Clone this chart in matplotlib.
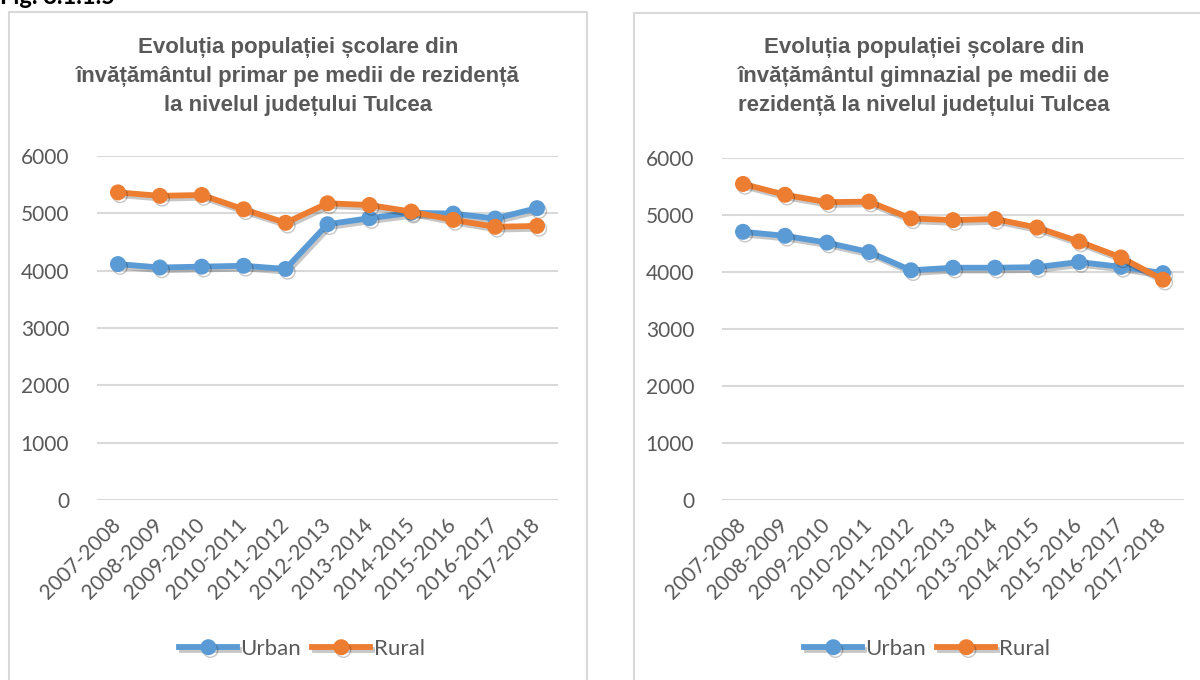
import matplotlib.pyplot as plt
import matplotlib.patheffects as pe
from matplotlib.patches import Rectangle

# Date
ani = ['2007-2008', '2008-2009', '2009-2010', '2010-2011', '2011-2012', '2012-2013',
       '2013-2014', '2014-2015', '2015-2016', '2016-2017', '2017-2018']
primar_urban = [4115, 4055, 4070, 4085, 4030, 4810, 4915, 5010, 4995, 4910, 5090]
primar_rural = [5365, 5305, 5320, 5070, 4835, 5175, 5145, 5030, 4885, 4765, 4780]
gimnazial_urban = [4705, 4635, 4515, 4350, 4030, 4075, 4075, 4085, 4175, 4090, 3980]
gimnazial_rural = [5545, 5355, 5225, 5235, 4940, 4910, 4930, 4780, 4535, 4255, 3865]
titlu_primar = 'Evoluția populației școlare din\nînvățământul primar pe medii de rezidență\nla nivelul județului Tulcea'
titlu_gimnazial = 'Evoluția populației școlare din\nînvățământul gimnazial pe medii de\nrezidență la nivelul județului Tulcea'

ALBASTRU = '#5B9BD5'
PORTOCALIU = '#ED7D31'
GRI = '#595959'
W, H = 1200, 680
FS = 15

plt.rcParams['font.family'] = ['Lato', 'DejaVu Sans']

fig = plt.figure(figsize=(12, 6.8), dpi=100)


def px_axes(x0, x1, y0, y1):
    return fig.add_axes([x0 / W, 1 - y1 / H, (x1 - x0) / W, (y1 - y0) / H])


def panel(x0, x1, y0):
    fig.add_artist(Rectangle((x0 / W, -0.05), (x1 - x0) / W, 1 - y0 / H + 0.05,
                             transform=fig.transFigure, fill=False,
                             edgecolor='#d9d9d9', linewidth=1.5))


def deseneaza(ax, urban, rural, titlu, cx, leg_x):
    umbra = [pe.SimpleLineShadow(offset=(1.5, -2), alpha=0.22, shadow_color='black'), pe.Normal()]
    x = range(len(ani))
    l1, = ax.plot(x, urban, color=ALBASTRU, lw=4.2, marker='o', ms=10.5,
                  label='Urban', path_effects=umbra, zorder=3)
    l2, = ax.plot(x, rural, color=PORTOCALIU, lw=4.2, marker='o', ms=10.5,
                  label='Rural', path_effects=umbra, zorder=4)
    ax.set_xlim(-0.5, len(ani) - 0.5)
    ax.set_ylim(0, 6000)
    ax.set_yticks(range(0, 6001, 1000))
    ax.set_xticks(list(x))
    ax.set_xticklabels(ani, rotation=45, ha='right', va='center', rotation_mode='anchor')
    ax.tick_params(axis='both', length=0, labelsize=FS, labelcolor=GRI)
    ax.tick_params(axis='y', pad=20)
    ax.tick_params(axis='x', pad=16)
    for s in ax.spines.values():
        s.set_visible(False)
    ax.grid(axis='y', color='#d9d9d9', lw=1.5)
    ax.set_axisbelow(True)
    fig.text(cx / W, 1 - 37 / H, titlu, ha='center', va='top', fontsize=16,
             fontweight='bold', color=GRI, linespacing=1.5,
             family=['Liberation Sans Narrow', 'Liberation Sans', 'DejaVu Sans'])
    fig.legend(handles=[l1, l2], loc='center', bbox_to_anchor=(leg_x / W, 1 - 649 / H),
               ncol=2, frameon=False, fontsize=16, labelcolor=GRI, handlelength=2.6,
               columnspacing=0.5, handletextpad=0.15)


panel(9, 587, 12)
panel(634, 1230, 13)

ax1 = px_axes(97, 558, 156, 500)
deseneaza(ax1, primar_urban, primar_rural, titlu_primar, 298, 302)
ax2 = px_axes(722, 1184, 158, 500)
deseneaza(ax2, gimnazial_urban, gimnazial_rural, titlu_gimnazial, 924, 927)

fig.text(0.0, 1 - 4 / H, 'Fig. 8.1.1.5', ha='left', va='baseline', fontsize=17,
         fontweight='bold', color='black')

fig.savefig('out.png', dpi=100)
